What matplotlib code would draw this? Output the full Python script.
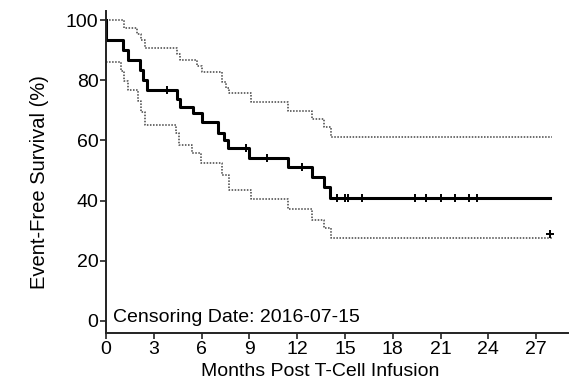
import matplotlib
matplotlib.use("Agg")
import matplotlib.pyplot as plt

plt.rcParams["font.family"] = ["Liberation Sans", "DejaVu Sans"]

# Kaplan-Meier estimate (step "post")
km_time = [0, 0.02, 1.05, 1.35, 2.13, 2.35, 2.6, 4.45, 4.65, 5.45, 6.0, 7.0,
           7.4, 7.65, 9.0, 11.45, 12.9, 13.7, 14.06, 27.9]
km_surv = [100, 93.3, 90.0, 86.7, 83.3, 80.0, 76.7, 73.9, 71.2, 69.0, 66.2, 62.3,
           60.0, 57.4, 54.0, 51.1, 47.7, 44.6, 40.7, 40.7]

# confidence bounds
upper_time = [0, 1.1, 1.95, 2.2, 2.45, 4.45, 4.65, 5.7, 6.0, 7.3, 7.55, 7.75,
              9.1, 11.45, 12.9, 13.7, 14.1, 28.0]
upper_surv = [100, 97.2, 95.5, 93.5, 90.6, 88.7, 86.7, 84.6, 82.8, 79.5, 77.5, 75.6,
              72.8, 69.9, 67.0, 64.4, 61.2, 61.2]
lower_time = [0, 0.95, 1.15, 1.35, 2.0, 2.2, 2.45, 4.4, 4.6, 5.4, 5.95, 7.3, 7.7,
              9.1, 11.4, 12.9, 13.7, 14.1, 28.0]
lower_surv = [86.1, 83.0, 79.8, 76.7, 73.0, 69.5, 65.1, 62.3, 58.6, 55.7, 52.4, 48.5, 43.5,
              40.4, 37.1, 33.6, 30.9, 27.5, 27.5]

# censored observations
cens_time = [3.8, 8.8, 10.1, 12.3, 14.5, 15.0, 15.2, 16.1, 19.4, 20.1, 21.0,
             21.9, 22.8, 23.3, 27.9]
cens_surv = [76.7, 57.4, 54.0, 51.1, 40.7, 40.7, 40.7, 40.7, 40.7, 40.7, 40.7,
             40.7, 40.7, 40.7, 29.0]

x_ticks = [0, 3, 6, 9, 12, 15, 18, 21, 24, 27]
y_ticks = [0, 20, 40, 60, 80, 100]

fig = plt.figure(figsize=(5.8, 3.84), dpi=100)
ax = fig.add_axes([0.1828, 0.1328, 0.7965, 0.8386])

ax.step(upper_time, upper_surv, where="post", color="#444444", lw=1.1,
        linestyle=(0, (1, 1)))
ax.step(lower_time, lower_surv, where="post", color="#444444", lw=1.1,
        linestyle=(0, (1, 1)))
ax.step(km_time, km_surv, where="post", color="black", lw=2.2)
ax.plot(cens_time, cens_surv, linestyle="none", marker="+", color="black",
        markersize=6, markeredgewidth=1.4)

ax.text(0.45, 1, "Censoring Date: 2016-07-15", fontsize=14, va="center", ha="left")

ax.set_xlim(0, 29)
ax.set_ylim(-4, 103)
ax.set_xticks(x_ticks)
ax.set_yticks(y_ticks)
ax.tick_params(direction="out", length=4, width=1.2, labelsize=14, pad=1.5,
               color="#222222")
for side in ("top", "right"):
    ax.spines[side].set_visible(False)
for side in ("left", "bottom"):
    ax.spines[side].set_linewidth(1.4)
    ax.spines[side].set_color("#222222")

ax.set_xlabel("Months Post T-Cell Infusion", fontsize=14)
ax.set_ylabel("Event-Free Survival (%)", fontsize=14.5)
ax.xaxis.set_label_coords(0.463, -0.092)
ax.yaxis.set_label_coords(-0.123, 0.47)

fig.savefig("out.png", dpi=100, facecolor="white")
